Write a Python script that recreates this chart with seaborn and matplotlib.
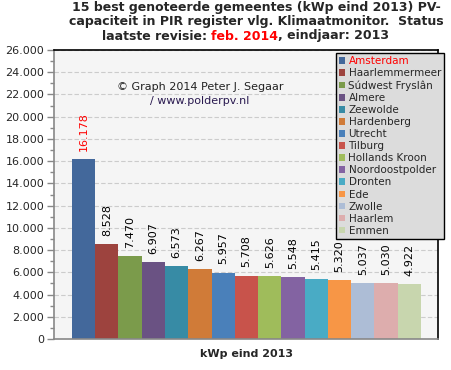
import matplotlib
matplotlib.use("Agg")
import matplotlib.pyplot as plt
import seaborn as sns
from matplotlib.patches import Patch
from matplotlib.ticker import MultipleLocator, FuncFormatter

# data
gemeentes = ["Amsterdam", "Haarlemmermeer", "Súdwest Fryslân", "Almere", "Zeewolde",
             "Hardenberg", "Utrecht", "Tilburg", "Hollands Kroon", "Noordoostpolder",
             "Dronten", "Ede", "Zwolle", "Haarlem", "Emmen"]
kwp = [16178, 8528, 7470, 6907, 6573, 6267, 5957, 5708, 5626, 5548, 5415, 5320, 5037, 5030, 4922]
kleuren = ["#43689b", "#9d433e", "#7b9b4b", "#6a5283", "#378ba5", "#d07b38", "#4a80ba",
           "#c8534b", "#9fbc5b", "#8363a2", "#49abc5", "#f79646", "#adbdd6", "#ddadad", "#c8d6ae"]

sns.set_style("white")
plt.rcParams['font.family'] = ['DejaVu Sans']

fig = plt.figure(figsize=(4.51, 3.70), dpi=100)
ax = fig.add_axes([54/451, 1-339/370, (438-54)/451, (339-50)/370])
ax.set_facecolor("#f5f5f5")

sns.barplot(x=gemeentes, y=kwp, hue=gemeentes, palette=kleuren, width=1.0,
            legend=False, ax=ax, saturation=1, linewidth=0)
ax.set_xlim(-1.27, 15.23)
ax.set_ylim(0, 26000)
ax.yaxis.set_major_locator(MultipleLocator(2000))
ax.yaxis.set_minor_locator(MultipleLocator(1000))
ax.yaxis.set_major_formatter(FuncFormatter(lambda v, p: f"{int(v):,}".replace(",", ".")))
ax.tick_params(axis='y', which='major', length=5, width=1, color="#888888", labelsize=8, pad=2, left=True)
ax.tick_params(axis='y', which='minor', length=3, width=1, color="#888888", left=True)
ax.set_xticks([])
ax.grid(axis='y', color="#cccccc", linestyle=(0, (4, 2)), linewidth=0.8)
ax.set_axisbelow(True)
for s in ["left", "bottom"]:
    ax.spines[s].set_color("#888888")
    ax.spines[s].set_linewidth(1.2)
for s in ["top", "right"]:
    ax.spines[s].set_color("black")
    ax.spines[s].set_linewidth(1.2)

# value labels
for i, v in enumerate(kwp):
    ax.annotate(f"{v:,}".replace(",", "."), (i, v), xytext=(0, 6), textcoords="offset points",
                rotation=90, ha="center", va="bottom", fontsize=8,
                color="red" if i == 0 else "black")

ax.set_xlabel("kWp eind 2013", fontsize=8, fontweight="bold", labelpad=7)

# title
fig.text(256/451, 1-8/370, "15 best genoteerde gemeentes (kWp eind 2013) PV-",
         ha="center", va="center", fontsize=9, fontweight="bold")
fig.text(256/451, 1-22/370, "capaciteit in PIR register vlg. Klimaatmonitor.  Status",
         ha="center", va="center", fontsize=9, fontweight="bold")
t1 = fig.text(102/451, 1-36/370, "laatste revisie: ", ha="left", va="center",
              fontsize=9, fontweight="bold")
t2 = ax.annotate("feb. 2014", xy=(1, 0), xycoords=t1, va="bottom", ha="left",
                 fontsize=9, fontweight="bold", color="red")
ax.annotate(", eindjaar: 2013", xy=(1, 0), xycoords=t2, va="bottom", ha="left",
            fontsize=9, fontweight="bold")

# copyright
fig.text(200/451, 1-87/370, "© Graph 2014 Peter J. Segaar", ha="center", va="center",
         fontsize=8, color="#222222")
fig.text(200/451, 1-101/370, "/ www.polderpv.nl", ha="center", va="center",
         fontsize=8, color="#2a1a50")

# legend
handles = [Patch(facecolor=c, edgecolor="none") for c in kleuren]
leg = fig.legend(handles, gemeentes, loc="upper right", bbox_to_anchor=(444/451, 1-53/370),
                 fontsize=7.5, frameon=True, fancybox=False, facecolor="#dcdcdc",
                 edgecolor="black", framealpha=1, handlelength=0.6, handleheight=0.6,
                 handletextpad=0.3, labelspacing=0.2, borderpad=0.3, borderaxespad=0)
leg.get_frame().set_linewidth(1)
leg.get_texts()[0].set_color("red")

fig.savefig("out.png", dpi=100)
